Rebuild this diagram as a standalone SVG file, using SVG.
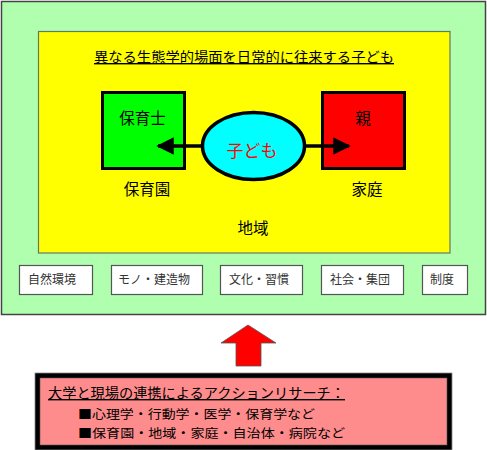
<svg xmlns="http://www.w3.org/2000/svg" width="487" height="450" viewBox="0 0 487 450">
<style>
text{font-family:"Noto Sans CJK JP","Noto Sans",sans-serif;fill:#000}
.lbl{font-size:15.5px;text-anchor:middle}
.sm rect{fill:#fff;stroke:#555;stroke-width:1.2}
.sm text{font-size:12px;fill:#333}
.bt{font-size:12.5px}
</style>
<defs>
<marker id="ah" viewBox="0 0 10 10" refX="9" refY="5" markerWidth="5" markerHeight="5.4" orient="auto-start-reverse" markerUnits="strokeWidth">
<path d="M0,0 L10,5 L0,10 z" fill="#000"/>
</marker>
</defs>
<g id="outer">
<rect x="1.5" y="1.5" width="484" height="313" fill="#AFFFAF" stroke="#444" stroke-width="1.5"/>
</g>
<g id="region">
<rect x="38.5" y="31.5" width="411.5" height="221.5" fill="#FFFF00" stroke="#667766" stroke-width="1.2"/>
<text x="244" y="62" font-size="14" text-anchor="middle" textLength="300" lengthAdjust="spacingAndGlyphs" text-decoration="underline">異なる生態学的場面を日常的に往来する子ども</text>
<text class="lbl" x="253" y="234">地域</text>
</g>
<g id="hoikuen">
<rect x="102.5" y="92.5" width="82" height="76" fill="#00FF00" stroke="#000" stroke-width="3"/>
<text class="lbl" x="142.5" y="124">保育士</text>
<text class="lbl" x="147" y="195">保育園</text>
</g>
<g id="katei">
<rect x="322.5" y="92.5" width="82" height="76" fill="#FF0000" stroke="#000" stroke-width="3"/>
<text class="lbl" x="363" y="124">親</text>
<text class="lbl" x="367" y="195">家庭</text>
</g>
<g id="connectors">
<line x1="203" y1="146" x2="158" y2="146" stroke="#000" stroke-width="3.5" marker-end="url(#ah)"/>
<line x1="305" y1="146" x2="349" y2="146" stroke="#000" stroke-width="3.5" marker-end="url(#ah)"/>
<path d="M248,325 L276,343 L261,343 L261,366 L236,366 L236,343 L221,343 Z" fill="#FF0000" stroke="#555" stroke-width="0.8"/>
</g>
<g id="kodomo">
<ellipse cx="253.5" cy="146" rx="51" ry="33.5" fill="#00FFFF" stroke="#000" stroke-width="3.5"/>
<text x="252" y="157" font-size="17" text-anchor="middle" style="fill:#FF0000">子ども</text>
</g>
<g id="shizen" class="sm"><rect x="19.5" y="265.5" width="73" height="29"/><text x="28" y="284">自然環境</text></g>
<g id="mono" class="sm"><rect x="111.5" y="265.5" width="91" height="29"/><text x="118" y="284">モノ・建造物</text></g>
<g id="bunka" class="sm"><rect x="220.5" y="265.5" width="82" height="29"/><text x="229" y="284">文化・習慣</text></g>
<g id="shakai" class="sm"><rect x="321.5" y="265.5" width="82" height="29"/><text x="330" y="284">社会・集団</text></g>
<g id="seido" class="sm"><rect x="422.5" y="265.5" width="45" height="29"/><text x="430" y="284">制度</text></g>
<g id="research">
<rect x="35" y="373" width="417" height="77" fill="#000" stroke="#888" stroke-width="0.8"/>
<rect x="40" y="378" width="407" height="67" fill="#FF8C8C" stroke="#555" stroke-width="0.6"/>
<text x="48" y="398" font-size="14" textLength="297" lengthAdjust="spacingAndGlyphs" text-decoration="underline">大学と現場の連携によるアクションリサーチ：</text>
<text class="bt" x="78" y="419" textLength="237" lengthAdjust="spacingAndGlyphs">■心理学・行動学・医学・保育学など</text>
<text class="bt" x="78" y="438" textLength="267" lengthAdjust="spacingAndGlyphs">■保育園・地域・家庭・自治体・病院など</text>
</g>
</svg>
